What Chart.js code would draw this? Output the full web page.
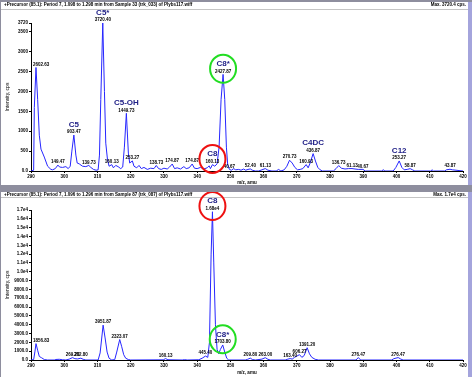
<!DOCTYPE html>
<html>
<head>
<meta charset="utf-8">
<script src="https://cdn.jsdelivr.net/npm/chart.js@4/dist/chart.umd.min.js"></script>
<style>
    body { margin: 0; width: 472px; height: 377px; background: #8e8e9e; position: relative; overflow: hidden; }
    .panel { position: absolute; left: 1px; width: 467px; background: #fff; border-right: 4px solid #a4a4dc; }
    #top { top: 2px; height: 183px; }
    #bottom { top: 192px; height: 185px; }
    canvas { display: block; }
</style>
</head>
<body>
<div class="panel" id="top"><canvas id="c1"></canvas></div>
<div class="panel" id="bottom"><canvas id="c2"></canvas></div>
<script>
// top spectrum (sample 33)
const topMz = [290.0, 290.8, 291.0, 291.5, 292.0, 292.5, 293.0, 294.0, 295.0, 296.0, 296.5, 297.3, 298.1, 298.6, 299.5, 300.5, 301.2, 301.8,
    302.3, 302.9, 303.5, 303.9, 304.5, 305.5, 306.5, 307.4, 308.0, 308.8, 309.6, 310.2, 310.6, 311.0, 311.6, 312.1, 312.5, 313.0,
    313.5, 314.3, 314.8, 315.5, 316.2, 317.0, 317.6, 318.1, 318.7, 319.3, 319.7, 320.5, 321.0, 321.8, 322.5, 323.2, 324.0, 325.0,
    326.0, 327.0, 327.7, 328.4, 329.2, 330.0, 331.0, 331.7, 332.5, 333.2, 334.0, 335.0, 336.0, 336.7, 337.6, 338.5, 339.2, 340.0,
    341.0, 342.0, 343.0, 343.6, 344.0, 344.6, 345.3, 346.0, 346.6, 347.2, 347.8, 348.3, 348.8, 349.2, 349.7, 350.3, 351.0, 351.6,
    352.5, 353.2, 354.0, 354.6, 355.3, 356.0, 356.6, 357.5, 358.5, 359.5, 360.5, 361.3, 362.5, 363.8, 364.5, 365.2, 366.2, 367.0,
    367.8, 368.6, 369.4, 370.2, 371.0, 371.8, 372.8, 373.4, 374.0, 374.9, 375.6, 376.3, 377.0, 377.7, 380.0, 381.0, 381.8, 382.6,
    383.4, 384.5, 385.5, 386.6, 387.5, 388.5, 389.9, 390.6, 395.5, 396.0, 396.5, 399.0, 399.8, 400.8, 401.6, 402.3, 403.2, 404.1,
    404.8, 405.5, 410.3, 410.7, 411.1, 414.5, 415.0, 416.1, 416.8, 420.0];
const topInt = [0, 20, 1600, 2602, 1800, 900, 550, 350, 120, 40, 30, 60, 149, 100, 90, 110, 60, 120,
    500, 903, 400, 200, 180, 120, 110, 140, 90, 40, 20, 30, 400, 1800, 3720, 2000, 700, 300,
    120, 160, 80, 140, 110, 60, 100, 600, 1450, 450, 200, 253, 120, 80, 140, 60, 90, 40,
    70, 60, 139, 60, 40, 70, 50, 100, 175, 60, 80, 50, 110, 60, 80, 175, 70, 60,
    90, 50, 80, 130, 60, 160, 120, 180, 600, 1800, 2428, 1800, 600, 150, 41, 20, 60, 30,
    40, 20, 50, 20, 40, 52, 20, 0, 0, 30, 61, 20, 0, 0, 40, 0, 30, 120,
    271, 200, 90, 30, 40, 60, 161, 80, 200, 437, 250, 90, 30, 0, 0, 0, 60, 137,
    70, 50, 60, 61, 50, 40, 41, 0, 0, 30, 0, 0, 90, 253, 90, 30, 40, 59,
    30, 0, 0, 30, 0, 0, 30, 44, 30, 0];
const topYTicks = [0, 500, 1000, 1500, 2000, 2500, 3000, 3500, 3720];
const topLabelMz = [291.5, 298.1, 302.9, 307.4, 311.6, 314.3, 318.7, 320.5, 327.7, 332.5, 338.5, 344.6, 347.8,
    349.7, 356.0, 360.5, 367.8, 372.8, 374.9, 382.6, 386.6, 389.9, 400.8, 404.1, 416.1];
const topLabelVal = [2602.63, 149.47, 903.47, 139.73, 3720.40, 160.13, 1449.73, 253.27, 138.73, 174.87, 174.87, 160.13, 2427.87,
    40.67, 52.40, 61.13, 270.73, 160.93, 436.87, 136.73, 61.13, 40.67, 253.27, 58.87, 43.87];
const topNames = ['C5', 'C5*', 'C5-OH', 'C8', 'C8*', 'C4DC', 'C12'];
const topNameMz = [302.9, 311.6, 318.7, 344.6, 347.8, 374.9, 400.8];
const topNameVal = [903.47, 3720.40, 1449.73, 160.13, 2427.87, 436.87, 253.27];
const topCircled = ['C8', 'C8*'];

// bottom spectrum (sample 87)
const botMz = [290.0, 290.8, 291.2, 291.5, 292.0, 292.5, 293.2, 294.0, 295.0, 297.0, 297.5, 298.5, 299.5, 300.5, 301.5, 302.5,
    303.2, 304.0, 305.0, 305.7, 306.5, 310.2, 310.8, 311.7, 312.3, 312.9, 313.5, 314.3, 315.2, 315.8, 316.7, 317.3, 317.9, 318.5,
    319.3, 320.0, 329.8, 330.5, 331.2, 335.5, 336.2, 337.0, 340.5, 341.5, 342.5, 343.2, 343.7, 344.2, 344.6, 345.0, 345.5, 346.0,
    346.5, 347.0, 347.7, 348.3, 348.9, 349.5, 354.5, 355.2, 356.0, 356.6, 357.5, 359.5, 360.5, 361.3, 362.0, 366.5, 367.3, 368.0,
    368.6, 369.3, 370.8, 371.5, 372.2, 373.1, 373.8, 374.5, 375.5, 376.5, 387.8, 388.5, 389.2, 398.5, 399.2, 400.5, 401.3, 402.0, 420.0];
const botInt = [0, 50, 1000, 1857, 1100, 400, 250, 50, 0, 0, 60, 80, 30, 0, 100, 269,
    150, 120, 203, 80, 0, 0, 800, 3952, 2500, 900, 200, 0, 50, 900, 2323, 1500, 600, 200,
    50, 0, 20, 160, 30, 0, 40, 0, 30, 200, 445, 300, 2000, 12000, 16800, 11000, 4000, 1200,
    700, 1200, 1704, 900, 200, 0, 0, 80, 210, 60, 0, 100, 263, 80, 0, 0, 100, 163,
    100, 300, 606, 300, 500, 1391, 700, 300, 80, 0, 0, 276, 0, 0, 150, 276, 100, 0, 0];
const botYTicks = [0, 1000, 2000, 3000, 4000, 5000, 6000, 7000, 8000, 9000, 10000, 11000, 12000, 13000, 14000, 15000, 16000, 17000];
const botLabelMz = [291.5, 302.5, 305.0, 311.7, 316.7, 330.5, 342.5, 344.6, 347.7, 356.0, 360.5, 368.0, 370.8, 373.1, 388.5, 400.5];
const botLabelVal = [1856.83, 269.20, 202.80, 3951.87, 2323.07, 160.13, 445.40, 16800, 1703.80, 209.80, 263.00, 163.40, 606.27,
    1391.20, 276.47, 276.47];
const botNames = ['C8', 'C8*'];
const botNameMz = [344.6, 347.7];
const botNameVal = [16800, 1703.80];
const botCircled = ['C8', 'C8*'];

const smallFont = 'bold 4.5px "Liberation Sans", Arial, sans-serif';

function fmt(v) {
    return v >= 10000 ? (v / 1e4).toFixed(2) + 'e4' : v.toFixed(2);
}

const spectrumPlugin = {
    id: 'spectrum',
    beforeDraw(chart, args, opts) {
        let ctx = chart.ctx;
        ctx.save();
        ctx.fillStyle = '#000';
        ctx.font = smallFont;
        ctx.textBaseline = 'middle';
        ctx.textAlign = 'left';
        ctx.fillText(opts.title, 3, opts.titleY);
        ctx.textAlign = 'right';
        ctx.fillText(opts.max, chart.width - 2, opts.titleY);
        ctx.strokeStyle = '#c4c4c4';
        ctx.lineWidth = 1;
        ctx.beginPath();
        ctx.moveTo(0, opts.lineY + 0.5);
        ctx.lineTo(chart.width, opts.lineY + 0.5);
        ctx.stroke();
        ctx.restore();
    },
    afterDatasetsDraw(chart, args, opts) {
        let ctx = chart.ctx;
        let x = chart.scales.x, y = chart.scales.y;
        ctx.save();
        ctx.fillStyle = '#000';
        ctx.font = smallFont;
        ctx.textAlign = 'center';
        ctx.textBaseline = 'middle';
        opts.labelMz.forEach((mz, i) => {
            let text = fmt(opts.labelVal[i]);
            let w = ctx.measureText(text).width;
            let px = Math.max(x.getPixelForValue(mz), chart.chartArea.left + w / 2 + 2);
            ctx.fillText(text, px, y.getPixelForValue(opts.labelVal[i]) - 3);
        });
        opts.names.forEach((name, i) => {
            let px = x.getPixelForValue(opts.nameMz[i]);
            let labelY = y.getPixelForValue(opts.nameVal[i]) - 3;
            let nameY = labelY - 7.5;
            ctx.fillStyle = '#222288';
            ctx.font = 'bold 8px "Liberation Sans", Arial, sans-serif';
            ctx.fillText(name, px, nameY);
            if (opts.circled.includes(name)) {
                ctx.strokeStyle = name.endsWith('*') ? '#22dd22' : '#ee1111';
                ctx.lineWidth = 2;
                ctx.beginPath();
                ctx.ellipse(px, (nameY + labelY) / 2 + 1, 13, 14, 0, 0, Math.PI * 2);
                ctx.stroke();
            }
        });
        ctx.restore();
    },
};

function make_chart(id, height, cfg) {
    let canvas = document.getElementById(id);
    canvas.style.width = '467px';
    canvas.style.height = height + 'px';
    return new Chart(canvas, {
        type: 'line',
        plugins: [spectrumPlugin],
        data: {
            datasets: [{
                data: cfg.mz.map((m, i) => ({ x: m, y: cfg.int[i] })),
                borderColor: '#2626ff',
                borderWidth: 1,
                pointRadius: 0,
                tension: 0,
            }],
        },
        options: {
            responsive: false,
            animation: false,
            events: [],
            layout: { padding: { top: cfg.plotTop, right: 5, left: 0, bottom: 0 } },
            plugins: {
                legend: { display: false },
                tooltip: { enabled: false },
                spectrum: cfg.plugin,
            },
            scales: {
                x: {
                    type: 'linear',
                    min: 290,
                    max: 420,
                    afterFit: scale => { scale.height = height - cfg.plotBottom; },
                    border: { display: true, color: '#000', width: 1 },
                    grid: { drawOnChartArea: false, drawTicks: true, tickLength: 2, color: '#000' },
                    ticks: {
                        stepSize: 10,
                        autoSkip: false,
                        maxRotation: 0,
                        padding: 1,
                        color: '#000',
                        font: { family: '"Liberation Sans", Arial', size: 4.5, weight: 'bold' },
                    },
                    title: {
                        display: true,
                        text: 'm/z, amu',
                        color: '#000',
                        padding: { top: 0, bottom: cfg.xTitlePad },
                        font: { family: '"Liberation Sans", Arial', size: 4.5, weight: 'bold' },
                    },
                },
                y: {
                    min: 0,
                    max: cfg.yMax,
                    afterFit: scale => { scale.width = 30; },
                    afterBuildTicks: scale => { scale.ticks = cfg.yTicks.map(v => ({ value: v })); },
                    border: { display: true, color: '#000', width: 1 },
                    grid: { drawOnChartArea: false, drawTicks: true, tickLength: 2, color: '#000' },
                    ticks: {
                        autoSkip: false,
                        padding: 1,
                        color: '#000',
                        callback: cfg.yFmt,
                        font: { family: '"Liberation Sans", Arial', size: 4.5, weight: 'bold' },
                    },
                    title: {
                        display: true,
                        text: 'Intensity, cps',
                        color: '#000',
                        padding: { top: 4, bottom: 0 },
                        font: { family: '"Liberation Sans", Arial', size: 5 },
                    },
                },
            },
        },
    });
}

make_chart('c1', 183, {
    mz: topMz, int: topInt, plotTop: 21, plotBottom: 169, xTitlePad: 0,
    yMax: 3720, yTicks: topYTicks,
    yFmt: v => v === 0 ? '0.0' : String(v),
    plugin: {
        title: '+Precursor (85.1): Period 7, 1.098 to 1.298 min from Sample 33 (trk_033) of Plybs117.wiff',
        max: 'Max. 3720.4 cps.', titleY: 3, lineY: 7,
        labelMz: topLabelMz, labelVal: topLabelVal,
        names: topNames, nameMz: topNameMz, nameVal: topNameVal, circled: topCircled,
    },
});

make_chart('c2', 185, {
    mz: botMz, int: botInt, plotTop: 18, plotBottom: 168, xTitlePad: 2,
    yMax: 17000, yTicks: botYTicks,
    yFmt: v => v >= 10000 ? (v / 1e4).toFixed(1) + 'e4' : v.toFixed(1),
    plugin: {
        title: '+Precursor (85.1): Period 7, 1.096 to 1.296 min from Sample 87 (trk_087) of Plybs117.wiff',
        max: 'Max. 1.7e4 cps.', titleY: 3, lineY: 5,
        labelMz: botLabelMz, labelVal: botLabelVal,
        names: botNames, nameMz: botNameMz, nameVal: botNameVal, circled: botCircled,
    },
});
</script>
</body>
</html>
